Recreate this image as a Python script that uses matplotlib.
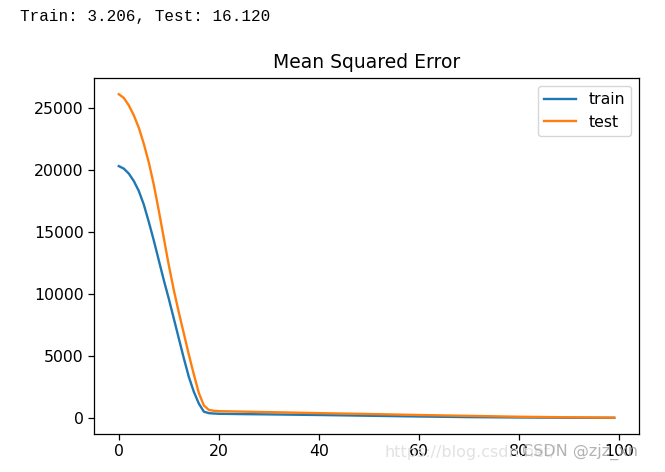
import matplotlib
matplotlib.use("Agg")
import matplotlib.pyplot as plt

# epochs and MSE values
epochs = [0, 1, 2, 3, 4, 5, 6, 7, 8, 9, 10, 11, 12, 13, 14, 15, 16, 17, 18, 19, 20,
          25, 30, 40, 50, 60, 70, 80, 90, 99]
train_mse = [20300, 20100, 19700, 19100, 18300, 17200, 15800, 14300, 12700, 11100,
             9600, 8000, 6400, 4800, 3300, 2100, 1150, 500, 380, 350, 330,
             300, 280, 230, 170, 110, 60, 30, 10, 3.206]
test_mse = [26100, 25800, 25200, 24400, 23400, 22100, 20600, 18800, 16700, 14500,
            12300, 10300, 8500, 6800, 5100, 3500, 2000, 1000, 640, 570, 540,
            500, 460, 380, 310, 230, 160, 90, 45, 16.120]

title = "Mean Squared Error"
header = "Train: 3.206, Test: 16.120"

W, H = 665, 472
fig = plt.figure(figsize=(W / 100, H / 100), dpi=100)
ax = fig.add_axes([94 / W, 38 / H, 545 / W, 356 / H])

ax.plot(epochs, train_mse, color="#1f77b4", lw=1.7, label="train")
ax.plot(epochs, test_mse, color="#ff7f0e", lw=1.7, label="test")

ax.set_title(title, fontsize=13.5, pad=7)
ax.tick_params(labelsize=11.3, length=4, width=0.9)
for s in ax.spines.values():
    s.set_linewidth(0.9)
ax.legend(fontsize=11.3, loc="upper right")

# notebook print output above the figure
fig.text(20 / W, 1 - 16 / H, header, fontsize=11.5, family="Liberation Mono",
         va="center", ha="left")

# blog watermark
fig.text(385 / W, 1 - 452 / H, "https://blog.csdn.net/", fontsize=11.5,
         color="#e2e2e2", va="center", ha="left", zorder=0)
fig.text(522 / W, 1 - 452 / H, "CSDN @zjz_xn", fontsize=11.5,
         color="#a0a0a0", alpha=0.8, va="center", ha="left")

fig.savefig("out.png", dpi=100)
